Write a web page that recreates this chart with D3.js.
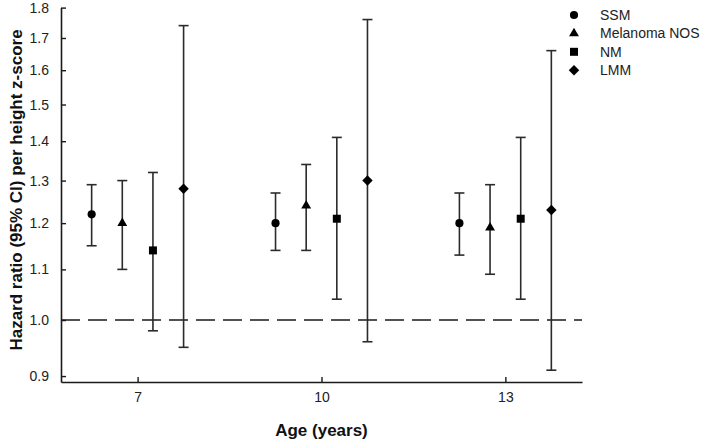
<!DOCTYPE html>
<html>
<head>
<meta charset="utf-8">
<script src="https://cdn.jsdelivr.net/npm/d3@7"></script>
<style>
  html, body { margin: 0; padding: 0; background: #fff; }
  svg { display: block; }
  text { font-family: "Liberation Sans", Arial, sans-serif; }
</style>
</head>
<body>
<svg id="chart" width="705" height="440"></svg>
<script>
// ---- data ----
const ages = [7, 10, 13];
const seriesNames = ["SSM", "Melanoma NOS", "NM", "LMM"];
const ssmHR    = [1.22, 1.20, 1.20];
const ssmLow   = [1.15, 1.14, 1.13];
const ssmHigh  = [1.29, 1.27, 1.27];
const nosHR    = [1.20, 1.24, 1.19];
const nosLow   = [1.10, 1.14, 1.09];
const nosHigh  = [1.30, 1.34, 1.29];
const nmHR     = [1.14, 1.21, 1.21];
const nmLow    = [0.98, 1.04, 1.04];
const nmHigh   = [1.32, 1.41, 1.41];
const lmmHR    = [1.28, 1.30, 1.23];
const lmmLow   = [0.95, 0.96, 0.91];
const lmmHigh  = [1.74, 1.76, 1.66];
const yTicks = [0.9, 1.0, 1.1, 1.2, 1.3, 1.4, 1.5, 1.6, 1.7, 1.8];
const referenceHR = 1.0;

const series = [
  { name: seriesNames[0], hr: ssmHR, lo: ssmLow, hi: ssmHigh, shape: "circle" },
  { name: seriesNames[1], hr: nosHR, lo: nosLow, hi: nosHigh, shape: "triangle" },
  { name: seriesNames[2], hr: nmHR,  lo: nmLow,  hi: nmHigh,  shape: "square" },
  { name: seriesNames[3], hr: lmmHR, lo: lmmLow, hi: lmmHigh, shape: "diamond" }
];
const offsets = [-0.75, -0.25, 0.25, 0.75];

// ---- layout ----
const svg = d3.select("#chart");
const x = d3.scaleLinear().domain([5.75, 14.25]).range([61, 582]);
const y = d3.scaleLog().domain([0.89, 1.8]).range([382, 7.6]);

const ink = "#1a1a1a";
const barInk = "#2b2b2b";

function symbolPath(shape) {
  if (shape === "circle") return d3.symbol(d3.symbolCircle, 52)();
  if (shape === "triangle") return d3.symbol(d3.symbolTriangle, 42)();
  if (shape === "square") return d3.symbol(d3.symbolSquare, 64)();
  return d3.symbol(d3.symbolSquare, 55)();
}
function symbolRot(shape) { return shape === "diamond" ? " rotate(45)" : ""; }

// reference dashed line
svg.append("line")
  .attr("x1", x.range()[0]).attr("x2", x.range()[1])
  .attr("y1", y(referenceHR)).attr("y2", y(referenceHR))
  .attr("stroke", ink).attr("stroke-width", 1.5)
  .attr("stroke-dasharray", "19,8");

// axes
const yAxis = d3.axisLeft(y).tickValues(yTicks).tickFormat(d3.format(".1f"))
  .tickSizeInner(-5).tickSizeOuter(0).tickPadding(12);
const gy = svg.append("g").attr("transform", `translate(${x.range()[0]},0)`).call(yAxis);
gy.select(".domain").attr("stroke", ink).attr("stroke-width", 1.6);
gy.selectAll(".tick line").attr("stroke", ink).attr("stroke-width", 1.4);
gy.selectAll(".tick text").attr("fill", "#222").attr("font-size", 14)
  .attr("font-family", "Liberation Sans, Arial, sans-serif");

const xAxis = d3.axisBottom(x).tickValues(ages).tickFormat(d3.format("d"))
  .tickSizeInner(-5).tickSizeOuter(0).tickPadding(10);
const gx = svg.append("g").attr("transform", `translate(0,${y.range()[0]})`).call(xAxis);
gx.select(".domain").attr("stroke", ink).attr("stroke-width", 1.6);
gx.selectAll(".tick line").attr("stroke", ink).attr("stroke-width", 1.4);
gx.selectAll(".tick text").attr("fill", "#222").attr("font-size", 14)
  .attr("font-family", "Liberation Sans, Arial, sans-serif");

// error bars + markers
const cap = 5;
series.forEach((s, si) => {
  const g = svg.append("g");
  ages.forEach((a, i) => {
    const cx = x(a + offsets[si]);
    g.append("line").attr("x1", cx).attr("x2", cx)
      .attr("y1", y(s.lo[i])).attr("y2", y(s.hi[i]))
      .attr("stroke", barInk).attr("stroke-width", 1.6);
    [s.lo[i], s.hi[i]].forEach(v => {
      g.append("line").attr("x1", cx - cap).attr("x2", cx + cap)
        .attr("y1", y(v)).attr("y2", y(v))
        .attr("stroke", barInk).attr("stroke-width", 1.6);
    });
    g.append("path").attr("d", symbolPath(s.shape))
      .attr("transform", `translate(${cx},${y(s.hr[i])})` + symbolRot(s.shape))
      .attr("fill", "#000");
  });
});

// legend
const legend = svg.append("g");
series.forEach((s, si) => {
  const ly = 15 + si * 18.4;
  legend.append("path").attr("d", symbolPath(s.shape))
    .attr("transform", `translate(574,${ly})` + symbolRot(s.shape))
    .attr("fill", "#000");
  legend.append("text").attr("x", 600).attr("y", ly).attr("dy", "0.35em")
    .attr("font-size", 14).attr("fill", "#222").text(s.name);
});

// axis titles
svg.append("text")
  .attr("x", (x.range()[0] + x.range()[1]) / 2).attr("y", 436)
  .attr("text-anchor", "middle").attr("font-size", 17).attr("font-weight", "bold")
  .attr("fill", "#111").text("Age (years)");
svg.append("text")
  .attr("transform", "translate(22,190) rotate(-90)")
  .attr("text-anchor", "middle").attr("font-size", 17).attr("font-weight", "bold")
  .attr("fill", "#111").text("Hazard ratio (95% CI) per height z-score");
</script>
</body>
</html>
